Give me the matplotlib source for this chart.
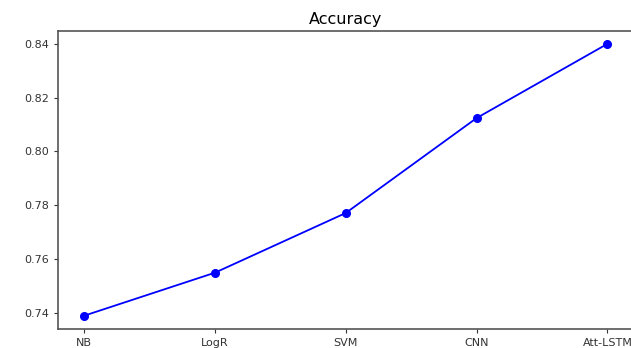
import matplotlib.pyplot as plt

models = ['NB', 'LogR', 'SVM', 'CNN', 'Att-LSTM']
accuracy = [0.7389, 0.7549, 0.7771, 0.8124, 0.8400]

fig = plt.figure(figsize=(6.31, 3.48), dpi=100)
ax = fig.add_axes([0.092, 0.055, 0.912, 0.856])

ax.plot(models, accuracy, color='blue', marker='o', markersize=5.5, linewidth=1.3)
ax.set_title('Accuracy', fontsize=11.5, pad=5)
ax.set_yticks([0.74, 0.76, 0.78, 0.80, 0.82, 0.84])
ax.set_ylim(0.734, 0.8448)
ax.tick_params(labelsize=8, length=3, colors='#333333')
for sp in ax.spines.values():
    sp.set_color('#555555')
    sp.set_linewidth(1.2)

fig.savefig('out.png', dpi=100)
